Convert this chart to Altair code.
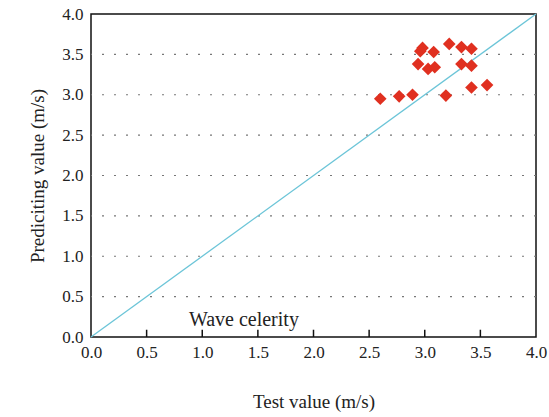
import altair as alt
import pandas as pd

test_values = [2.60, 2.77, 2.89, 2.94, 2.96, 2.98, 3.03, 3.09, 3.08, 3.19, 3.22, 3.33, 3.33, 3.42, 3.42, 3.42, 3.56]
pred_values = [2.95, 2.98, 3.00, 3.38, 3.54, 3.58, 3.32, 3.34, 3.53, 2.99, 3.63, 3.59, 3.38, 3.57, 3.36, 3.09, 3.12]
line_x = [0.0, 4.0]
line_y = [0.0, 4.0]
tick_values = [0.0, 0.5, 1.0, 1.5, 2.0, 2.5, 3.0, 3.5, 4.0]
grid_values = [0.5, 1.0, 1.5, 2.0, 2.5, 3.0, 3.5]
label_text = ["Wave celerity"]
label_x = [0.88]
label_y = [0.21]

FONT = "Liberation Serif"

pts = pd.DataFrame({"x": test_values, "y": pred_values})
ln = pd.DataFrame({"x": line_x, "y": line_y})
ticks = pd.DataFrame({"tx": grid_values})
grid = pd.DataFrame({"gy": grid_values})
lab = pd.DataFrame({"x": label_x, "y": label_y, "t": label_text})

xs = alt.Scale(domain=[0, 4], nice=False)
ys = alt.Scale(domain=[0, 4], nice=False)

xaxis = alt.Axis(values=tick_values, format=".1f", title="Test value (m/s)", grid=False,
                 ticks=False, labelPadding=7, titlePadding=32, labelFlush=False)
yaxis = alt.Axis(values=tick_values, format=".1f", title="Prediciting value (m/s)", grid=False,
                 ticks=False, labelPadding=8, titlePadding=14, labelFlush=False)

gridl = alt.Chart(grid).mark_rule(color="#777777", strokeWidth=1.2, strokeDash=[2, 10]).encode(
    y=alt.Y("gy:Q", scale=ys, axis=yaxis)
)

base_pts = alt.Chart(pts).mark_point(shape="diamond", filled=True, color="#e03020", size=160, opacity=1).encode(
    x=alt.X("x:Q", scale=xs, axis=xaxis),
    y=alt.Y("y:Q", scale=ys, axis=yaxis),
)

line = alt.Chart(ln).mark_line(color="#6cc5d8", strokeWidth=1.3).encode(
    x=alt.X("x:Q", scale=xs), y=alt.Y("y:Q", scale=ys)
)

tk = alt.Chart(ticks).mark_rule(color="#111111", strokeWidth=1.5).encode(
    x=alt.X("tx:Q", scale=xs), y=alt.YDatum(0.0, scale=ys), y2=alt.Y2Datum(0.09)
)

txt = alt.Chart(lab).mark_text(align="left", baseline="middle", font=FONT, fontSize=20, color="#222222").encode(
    x=alt.X("x:Q", scale=xs), y=alt.Y("y:Q", scale=ys), text="t:N"
)

chart = alt.layer(gridl, line, base_pts, txt, tk).properties(
    width=445, height=323,
    background="white",
    autosize=alt.AutoSizeParams(type="none"),
    padding={"left": 91, "top": 14, "right": 13, "bottom": 80},
).configure_view(
    stroke="#111111", strokeWidth=1.5
).configure_axis(
    labelFont=FONT, titleFont=FONT, labelFontSize=17, titleFontSize=19,
    labelColor="#222222", titleColor="#222222", titleFontWeight="normal",
    domain=False,
)

chart.save("out.html", embed_options={"renderer": "svg", "actions": False})
